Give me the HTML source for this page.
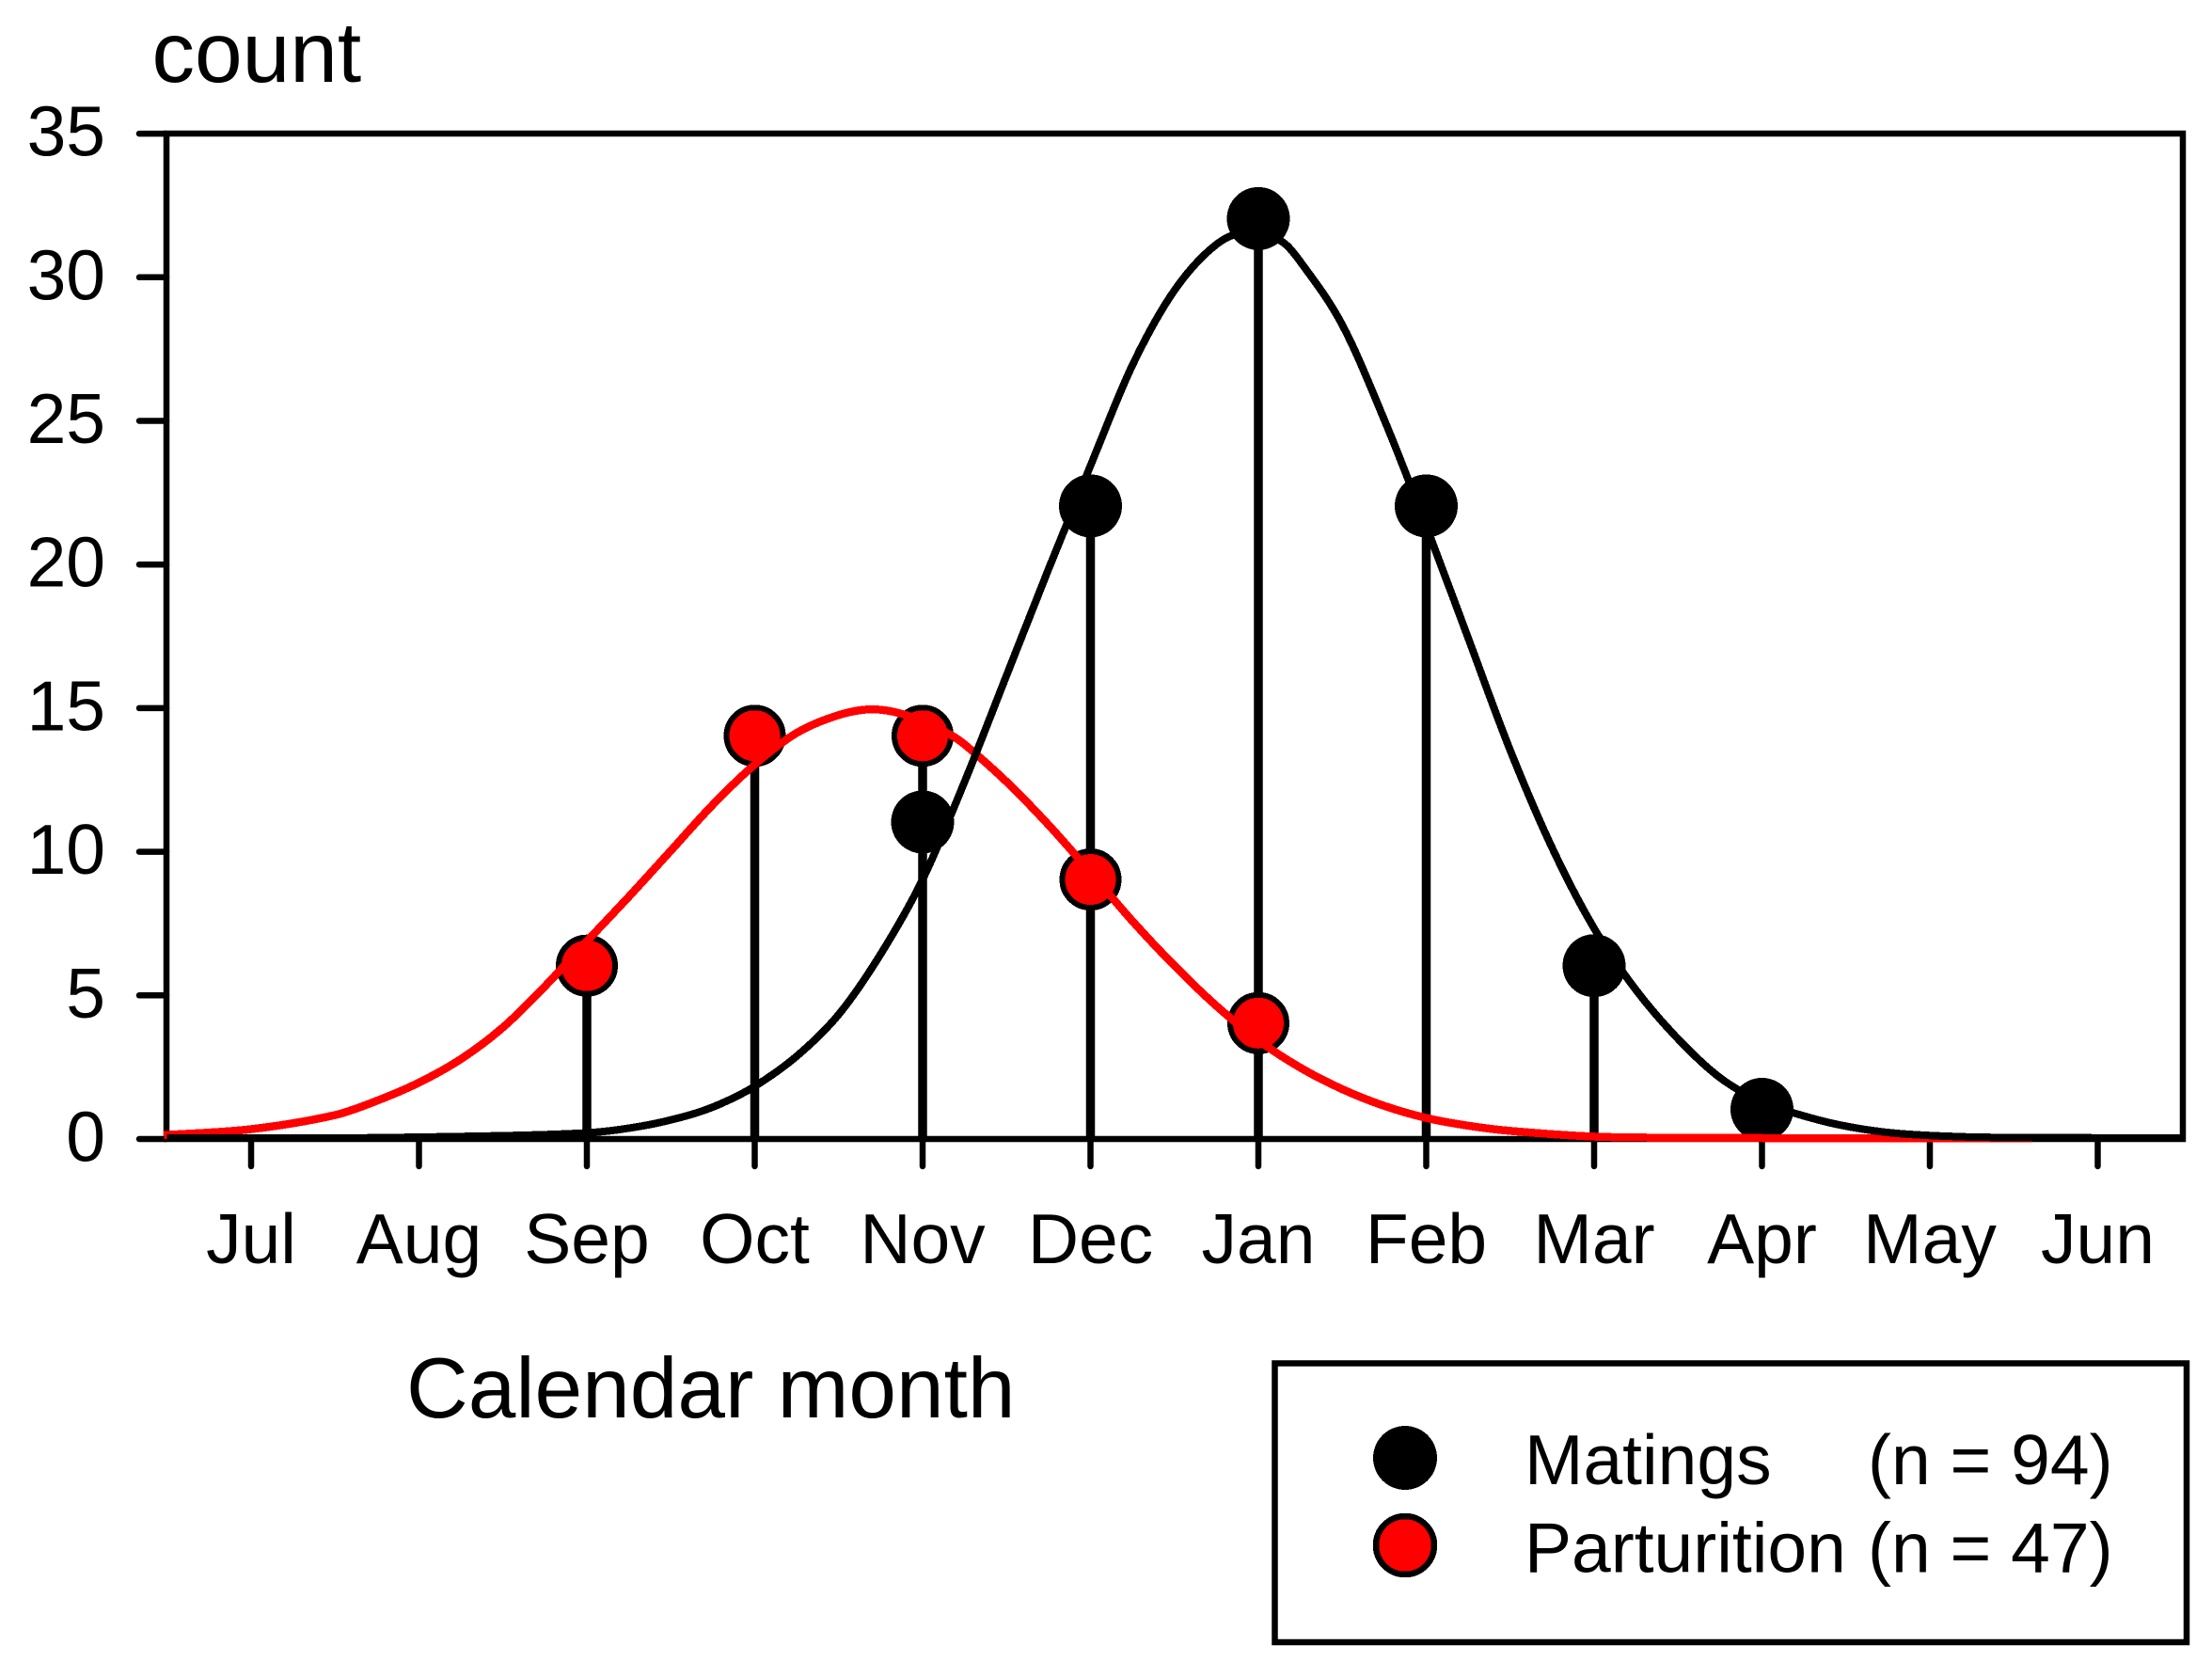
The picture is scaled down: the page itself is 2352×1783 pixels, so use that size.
<!DOCTYPE html>
<html lang="en">
<head>
<meta charset="utf-8">
<title>Matings and parturition by calendar month</title>
<style>
html,body{margin:0;padding:0;background:#fff;}
svg{position:absolute;left:0;top:0;display:block;}
text{font-family:"Liberation Sans",Arial,sans-serif;fill:#000;}
</style>
</head>
<body>
<svg id="chart" width="2352" height="1783" viewBox="0 0 2352 1783" xmlns="http://www.w3.org/2000/svg">
  <rect x="0" y="0" width="2352" height="1783" fill="#fff"/>
  <text x="161.5" y="87" font-size="91">count</text>
  <text x="432" y="1507" font-size="91">Calendar month</text>
  <rect x="177" y="142" width="2144" height="1069" fill="none" stroke="#000" stroke-width="6.5"/>
  <g id="y-axis"></g>
  <g id="x-axis"></g>
  <g id="stems"></g>
  <g id="marks"></g>
  <g id="curves"></g>
  <g>
    <rect x="1355.5" y="1449.5" width="969.5" height="296.5" fill="#fff" stroke="#000" stroke-width="6.5"/>
    <circle cx="1494" cy="1550" r="34" fill="#000" shape-rendering="crispEdges"/>
    <circle cx="1494" cy="1643" r="31" fill="#f00" stroke="#000" stroke-width="6.5" shape-rendering="crispEdges"/>
    <text x="1621" y="1578" font-size="75">Matings</text>
    <text x="1986" y="1578" font-size="75">(n = 94)</text>
    <text x="1621" y="1671.5" font-size="75">Parturition</text>
    <text x="1986" y="1671.5" font-size="75">(n = 47)</text>
  </g>
</svg>
<script>
const months = ['Jul','Aug','Sep','Oct','Nov','Dec','Jan','Feb','Mar','Apr','May','Jun'];
const yTickValues = [0,5,10,15,20,25,30,35];
const matingCounts = [0,0,0,0,11,22,32,22,6,1,0,0];
const parturitionCounts = [0,0,6,14,14,9,4,0,0,0,0,0];

// Fitted curves: position in month units (Jul = 0) and count.
const matingCurveMonths = [-0.5,0.5,1.21,2,2.33,2.61,2.8,3,3.25,3.5,3.75,4,4.25,4.5,4.75,5,5.25,5.5,5.75,5.95,6.14,6.25,6.5,6.75,7,7.25,7.5,7.75,8,8.25,8.5,8.75,9,9.22,9.46,9.74,10.03,10.4,11.5];
const matingCurveCounts = [0,0,0.05,0.18,0.42,0.8,1.2,1.8,2.85,4.3,6.4,9,12.4,16.1,19.8,23.4,26.9,29.5,31.1,31.55,31.2,30.5,28.3,25,21.3,17.4,13.5,10.1,7.3,5.15,3.45,2.1,1.25,0.82,0.46,0.2,0.08,0.02,0];
const parturitionCurveMonths = [-0.52,0,0.5,0.75,1,1.25,1.5,1.75,2,2.25,2.5,2.75,3,3.25,3.5,3.7,3.9,4.16,4.25,4.5,4.75,5,5.25,5.5,5.75,6,6.25,6.5,6.75,7,7.25,7.5,8,8.5,9,10.61];
const parturitionCurveCounts = [0.1,0.31,0.8,1.3,1.93,2.75,3.85,5.28,6.85,8.4,10,11.6,13,14.1,14.72,14.92,14.72,14.05,13.7,12.4,10.9,9.25,7.55,6,4.6,3.4,2.45,1.7,1.12,0.7,0.43,0.25,0.05,0.01,0,0];

const NS = 'http://www.w3.org/2000/svg';
function xScale(m){ return 267 + 178.5 * m; }
function yScale(v){ return 1210 - 30.55 * v; }
function tickY(v){ return 1211 - 30.54 * v; }
function make(tag, attrs, parent){
  const el = document.createElementNS(NS, tag);
  for (const k in attrs) el.setAttribute(k, attrs[k]);
  parent.appendChild(el);
  return el;
}
function smoothPath(xs, ys){
  const p = xs.map((x, i) => [xScale(x), yScale(ys[i])]);
  let d = 'M' + p[0][0].toFixed(2) + ' ' + p[0][1].toFixed(2);
  for (let i = 0; i < p.length - 1; i++) {
    const a = p[Math.max(i - 1, 0)], b = p[i], c = p[i + 1], e = p[Math.min(i + 2, p.length - 1)];
    const dx = c[0] - b[0];
    const t1 = (c[1] - a[1]) / (c[0] - a[0]);
    const t2 = (e[1] - b[1]) / (e[0] - b[0]);
    d += ' C' + (b[0] + dx / 3).toFixed(2) + ' ' + (b[1] + t1 * dx / 3).toFixed(2) +
         ' ' + (c[0] - dx / 3).toFixed(2) + ' ' + (c[1] - t2 * dx / 3).toFixed(2) +
         ' ' + c[0].toFixed(2) + ' ' + c[1].toFixed(2);
  }
  return d;
}

const yAxis = document.getElementById('y-axis');
yTickValues.forEach(v => {
  const tick = make('line', {x1:148, x2:177, y1:tickY(v), y2:tickY(v), stroke:'#000', 'stroke-width':6.5, 'stroke-linecap':'round'}, yAxis);
  
  
  const label = make('text', {x:112, y:tickY(v) + 23.5, 'font-size':75, 'text-anchor':'end'}, yAxis);
  
  
  label.textContent = String(v);
});

const xAxis = document.getElementById('x-axis');
months.forEach((name, i) => {
  const tick = make('line', {x1:xScale(i), x2:xScale(i), y1:1211, y2:1240, stroke:'#000', 'stroke-width':6.5, 'stroke-linecap':'round'}, xAxis);
  
  
  const label = make('text', {x:xScale(i), y:1343, 'font-size':75, 'text-anchor':'middle'}, xAxis);
  
  
  label.textContent = name;
});

const stems = document.getElementById('stems');
months.forEach((name, i) => {
  const top = Math.max(matingCounts[i], parturitionCounts[i]);
  if (top > 0) {
    const stem = make('line', {x1:xScale(i), x2:xScale(i), y1:yScale(top), y2:yScale(0), stroke:'#000', 'stroke-width':9.5}, stems);
    
    
  }
});

const marks = document.getElementById('marks');
months.forEach((name, i) => {
  if (matingCounts[i] > 0) {
    const dot = make('circle', {cx:xScale(i), cy:yScale(matingCounts[i]), r:33.5, fill:'#000', 'shape-rendering':'crispEdges'}, marks);
    
    
  }
});
months.forEach((name, i) => {
  if (parturitionCounts[i] > 0) {
    const dot = make('circle', {cx:xScale(i), cy:yScale(parturitionCounts[i]), r:30, fill:'#f00', stroke:'#000', 'stroke-width':6, 'shape-rendering':'crispEdges'}, marks);
    
    
  }
});

const curves = document.getElementById('curves');
const redCurve = make('path', {d:smoothPath(parturitionCurveMonths, parturitionCurveCounts), fill:'none', stroke:'#f00', 'stroke-width':8.5, 'shape-rendering':'crispEdges'}, curves);


const blackCurve = make('path', {d:smoothPath(matingCurveMonths, matingCurveCounts), fill:'none', stroke:'#000', 'stroke-width':8, 'shape-rendering':'crispEdges'}, curves);


</script>
</body>
</html>
